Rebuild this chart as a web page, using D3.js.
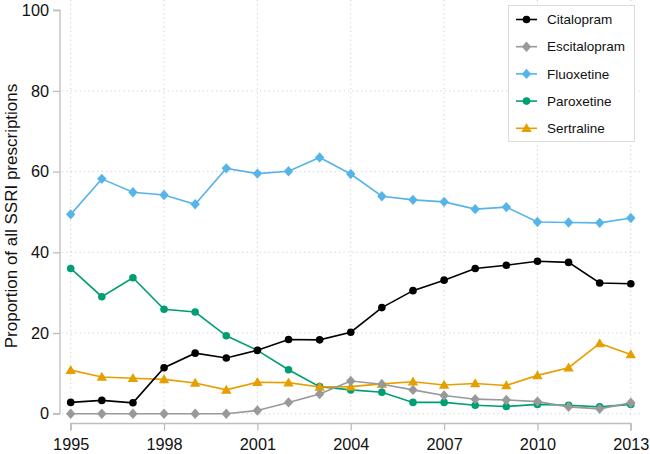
<!DOCTYPE html>
<html><head><meta charset="utf-8">
<script src="https://cdn.jsdelivr.net/npm/d3@7"></script>
<style>body{margin:0;background:#fff}svg{display:block;font-family:"Liberation Sans",Arial,sans-serif}</style>
</head><body><svg id="c" width="650" height="454"></svg>
<script>
const years = [1995,1996,1997,1998,1999,2000,2001,2002,2003,2004,2005,2006,2007,2008,2009,2010,2011,2012,2013];
const citalopram   = [2.8,3.3,2.7,11.4,15.0,13.8,15.7,18.4,18.3,20.2,26.3,30.5,33.1,36.0,36.8,37.8,37.5,32.4,32.2];
const escitalopram = [0,0,0,0,0,0,0.8,2.8,4.9,8.1,7.3,5.9,4.5,3.6,3.4,3.0,1.7,1.2,2.7];
const fluoxetine   = [49.4,58.2,54.9,54.2,51.9,60.8,59.5,60.1,63.5,59.4,53.9,53.0,52.5,50.7,51.2,47.5,47.4,47.3,48.5];
const paroxetine   = [36.0,29.0,33.7,25.9,25.2,19.3,15.7,10.9,6.7,5.9,5.3,2.8,2.8,2.1,1.8,2.3,2.1,1.7,2.3];
const sertraline   = [10.8,9.1,8.8,8.5,7.6,5.9,7.8,7.7,6.6,6.7,7.4,7.9,7.1,7.5,7.0,9.5,11.4,17.4,14.7];
const seriesNames = ["Citalopram","Escitalopram","Fluoxetine","Paroxetine","Sertraline"];
const seriesValues = [citalopram, escitalopram, fluoxetine, paroxetine, sertraline];
const seriesColors = ["#000000","#999999","#56B4E9","#009E73","#E69F00"];
const seriesShapes = ["circle","diamond","diamond","circle","triangle"];
const xTicks = [1995,1998,2001,2004,2007,2010,2013];
const yTicks = [0,20,40,60,80,100];
const yTitle = "Proportion of all SSRI prescriptions";

const svg = d3.select("#c");
const x = d3.scaleLinear().domain([1995,2013]).range([70.7,630.8]);
const y = d3.scaleLinear().domain([0,100]).range([413.7,10.2]);

// grid
const g = svg.append("g");
g.selectAll(".hg").data(yTicks.filter(t=>t<100)).join("line")
  .attr("x1",62).attr("x2",641).attr("y1",d=>y(d)).attr("y2",d=>y(d))
  .attr("stroke","#cfcfcf").attr("stroke-width",1).attr("stroke-dasharray","1.2,3.2");
g.selectAll(".vg").data(xTicks).join("line")
  .attr("x1",d=>x(d)).attr("x2",d=>x(d)).attr("y1",0).attr("y2",417)
  .attr("stroke","#cfcfcf").attr("stroke-width",1).attr("stroke-dasharray","1.2,3.2");

// axes
const yAxis = d3.axisLeft(y).tickValues(yTicks).tickSize(7).tickPadding(4);
const ya = svg.append("g").attr("transform","translate(60,0)").call(yAxis);
const xAxis = d3.axisBottom(x).tickValues(xTicks).tickFormat(d3.format("d")).tickSize(7).tickPadding(8);
const xa = svg.append("g").attr("transform","translate(0,423.5)").call(xAxis);
[ya,xa].forEach(a=>{
  a.select(".domain").attr("stroke","#bdbdbd").attr("stroke-width",1.3);
  a.selectAll(".tick line").attr("stroke","#bdbdbd").attr("stroke-width",1.3);
  a.selectAll(".tick text").attr("fill","#111").attr("font-size",16.3).attr("font-family","Liberation Sans, Arial, sans-serif");
});
ya.select(".domain").attr("d","M-7,"+y(100)+"H0V"+y(0)+"H-7");
xa.select(".domain").attr("d","M"+x(1995)+",7V0H"+x(2013)+"V7");

svg.append("text").attr("transform","translate(16.5,216) rotate(-90)")
  .attr("text-anchor","middle").attr("font-size",17).attr("fill","#111").text(yTitle);

function marker(sel, shape, color){
  if(shape==="circle") sel.append("circle").attr("r",3.8).attr("fill",color);
  else if(shape==="diamond") sel.append("path").attr("d","M0,-5.2L4.7,0L0,5.2L-4.7,0Z").attr("fill",color);
  else sel.append("path").attr("d","M0,-5.2L5.2,3.8L-5.2,3.8Z").attr("fill",color);
}

const line = d3.line().x((d,i)=>x(years[i])).y(d=>y(d));
const order = [3,4,1,2,0];
order.forEach(k=>{
  const vals = seriesValues[k];
  const sg = svg.append("g");
  sg.append("path").datum(vals).attr("d",line).attr("fill","none")
    .attr("stroke",seriesColors[k]).attr("stroke-width",1.6);
  vals.forEach((v,i)=>{
    const m = sg.append("g").attr("transform",`translate(${x(years[i])},${y(v)})`);
    marker(m, seriesShapes[k], seriesColors[k]);
  });
});

// legend
const lg = svg.append("g");
lg.append("rect").attr("x",508.5).attr("y",5.5).attr("width",126).attr("height",136)
  .attr("fill","#fff").attr("stroke","#dcdcdc").attr("stroke-width",1);
seriesNames.forEach((n,k)=>{
  const yy = 19.5 + k*27.2;
  lg.append("line").attr("x1",516).attr("x2",537).attr("y1",yy).attr("y2",yy)
    .attr("stroke",seriesColors[k]).attr("stroke-width",1.6);
  const m = lg.append("g").attr("transform",`translate(526.5,${yy})`);
  marker(m, seriesShapes[k], seriesColors[k]);
  lg.append("text").attr("x",547).attr("y",yy).attr("dy","0.35em")
    .attr("font-size",13.5).attr("fill","#111").text(n);
});
</script></body></html>
